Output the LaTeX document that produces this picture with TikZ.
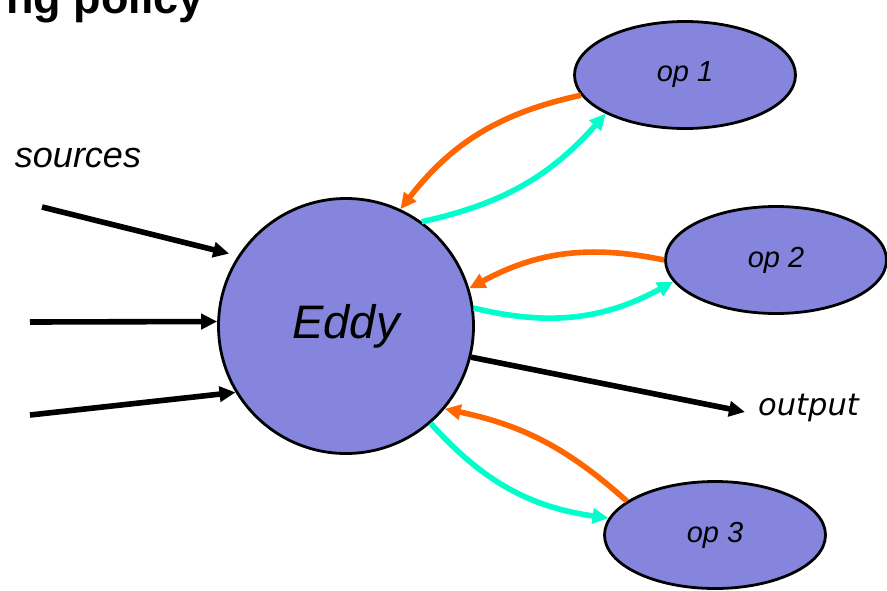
\documentclass[tikz,border=0pt]{standalone}
\usepackage{fontspec}
\setmainfont{Liberation Sans}
\newfontfamily\outfont{DejaVu Sans}
\usetikzlibrary{arrows.meta,shapes.geometric}

\definecolor{nodefill}{RGB}{133,133,222}
\definecolor{askorange}{RGB}{255,102,0}
\definecolor{backcyan}{RGB}{0,255,204}

\begin{document}
\begin{tikzpicture}[x=1pt,y=-1pt,
  opnode/.style={ellipse, draw=black, line width=2.8pt, fill=nodefill,
    minimum width=221pt, minimum height=107pt, inner sep=0pt,
    font=\fontsize{29}{30}\selectfont\itshape},
  eddynode/.style={circle, draw=black, line width=2.8pt, fill=nodefill,
    minimum size=255pt, inner sep=0pt,
    font=\fontsize{47}{50}\selectfont\itshape},
  flow/.style={line width=5.6pt, -{Triangle[length=16pt,width=15pt]}},
  inflow/.style={flow, black},
  askflow/.style={flow, askorange, bend right=20},
  backflow/.style={flow, backcyan, bend right=18},
  lbl/.style={inner sep=0pt, font=\fontsize{36}{38}\selectfont\itshape}
]
\useasboundingbox (0,0) rectangle (887,590);
\clip (0,0) rectangle (887,590);

% heading (partly outside the frame)
\node[anchor=base east, inner sep=0pt, font=\fontsize{45}{48}\selectfont\bfseries]
  (heading) at (204,13) {ng policy};

% central router and the operators
\node[eddynode] (eddy) at (346,326) {Eddy};
\node[opnode] (op1) at (685,75) {op 1};
\node[opnode] (op2) at (776,260) {op 2};
\node[opnode] (op3) at (715,535) {op 3};

% inputs
\node[lbl, anchor=base] (srclbl) at (78,167) {sources};
\coordinate (src1) at (42,207);
\coordinate (src2) at (30,322);
\coordinate (src3) at (30,415);
\draw[inflow, shorten >=9pt] (src1) -- (eddy.147.8);
\draw[inflow] (src2) -- (eddy.178);
\draw[inflow] (src3) -- (eddy.211);

% output
\coordinate (outtip) at (745,412);
\node[lbl, anchor=base west, font=\outfont\fontsize{30.5}{32}\selectfont\itshape]
  (outlbl) at (758,415) {output};
\draw[inflow] (eddy.-14) -- (outtip);

% tuples sent to operators and returned
\draw[askflow] (op1.191) to (eddy.65);
\draw[backflow] (eddy.54) to (op1.206);

\draw[askflow] (op2.180.5) to (eddy.17.7);
\draw[backflow, bend right=21] (eddy.8) to (op2.192);

\draw[askflow, bend right=15] (op3.159) to (eddy.-40);
\draw[backflow, bend right=20] (eddy.-49) to (op3.171);
\end{tikzpicture}
\end{document}
